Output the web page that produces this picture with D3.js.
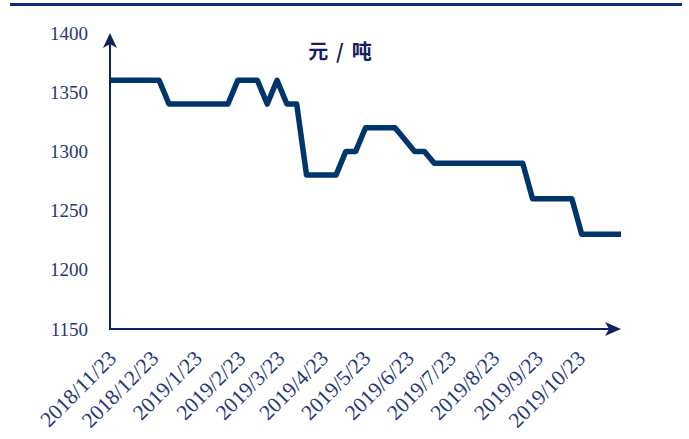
<!DOCTYPE html>
<html>
<head>
<meta charset="utf-8">
<script src="https://cdn.jsdelivr.net/npm/d3@7"></script>
<style>
  body { margin: 0; background: #fff; }
  svg { display: block; }
</style>
</head>
<body>
<div id="chart"></div>
<script>
// weekly price data (元/吨)
const dates = [
  "2018-11-23", "2018-11-30", "2018-12-07", "2018-12-14", "2018-12-21", "2018-12-28",
  "2019-01-04", "2019-01-11", "2019-01-18", "2019-01-25", "2019-02-01", "2019-02-08",
  "2019-02-15", "2019-02-22", "2019-03-01", "2019-03-08", "2019-03-15", "2019-03-22",
  "2019-03-29", "2019-04-05", "2019-04-12", "2019-04-19", "2019-04-26", "2019-05-03",
  "2019-05-10", "2019-05-17", "2019-05-24", "2019-05-31", "2019-06-07", "2019-06-14",
  "2019-06-21", "2019-06-28", "2019-07-05", "2019-07-12", "2019-07-19", "2019-07-26",
  "2019-08-02", "2019-08-09", "2019-08-16", "2019-08-23", "2019-08-30", "2019-09-06",
  "2019-09-13", "2019-09-20", "2019-09-27", "2019-10-04", "2019-10-11", "2019-10-18",
  "2019-10-25", "2019-11-01", "2019-11-08", "2019-11-15", "2019-11-22"
];
const prices = [
  1360, 1360, 1360, 1360, 1360, 1360,
  1340, 1340, 1340, 1340, 1340, 1340, 1340,
  1360, 1360, 1360, 1340, 1360, 1340, 1340,
  1280, 1280, 1280, 1280, 1300, 1300,
  1320, 1320, 1320, 1320, 1310, 1300, 1300,
  1290, 1290, 1290, 1290, 1290, 1290, 1290, 1290, 1290, 1290,
  1260, 1260, 1260, 1260, 1260,
  1230, 1230, 1230, 1230, 1230
];
const tickDates = [
  "2018-11-23", "2018-12-23", "2019-01-23", "2019-02-23", "2019-03-23", "2019-04-23",
  "2019-05-23", "2019-06-23", "2019-07-23", "2019-08-23", "2019-09-23", "2019-10-23"
];
const yTicks = [1150, 1200, 1250, 1300, 1350, 1400];
const unitLabel = "元/吨";

const width = 689, height = 439;
const lineColor = "#00356b";
const axisColor = "#0d2260";
const textColor = "#26377a";
const serif = "'Liberation Serif', 'DejaVu Serif', serif";

const parse = d3.timeParse("%Y-%m-%d");
const fmt = d3.timeFormat("%Y/%-m/%-d");
const data = dates.map((d, i) => ({ date: parse(d), value: prices[i] }));

const svg = d3.select("#chart").append("svg")
  .attr("width", width)
  .attr("height", height);

// top rule
svg.append("rect")
  .attr("x", 10).attr("y", 3)
  .attr("width", 672).attr("height", 3)
  .attr("fill", "#0b2d80");

const x = d3.scaleTime()
  .domain(d3.extent(data, d => d.date))
  .range([110, 621]);

const y = d3.scaleLinear()
  .domain([1150, 1400])
  .range([329, 33]);

// y tick labels
svg.selectAll("text.ytick")
  .data(yTicks)
  .enter()
  .append("text")
  .attr("class", "ytick")
  .attr("x", 88)
  .attr("y", d => y(d))
  .attr("dy", "0.35em")
  .attr("text-anchor", "end")
  .attr("fill", textColor)
  .style("font-family", serif)
  .style("font-size", "19px")
  .text(d => d);

// x tick labels (rotated)
svg.selectAll("text.xtick")
  .data(tickDates.map(parse))
  .enter()
  .append("text")
  .attr("class", "xtick")
  .attr("text-anchor", "end")
  .attr("transform", d => `translate(${x(d) - 3},${349}) rotate(-45)`)
  .attr("dy", "0.7em")
  .attr("fill", textColor)
  .style("font-family", serif)
  .style("font-size", "21.5px")
  .text(d => fmt(d));

// axes
const x0 = x.range()[0], y0 = y.range()[0];
svg.append("line")
  .attr("x1", x0).attr("y1", y0)
  .attr("x2", x0).attr("y2", 40)
  .attr("stroke", axisColor).attr("stroke-width", 2);
svg.append("line")
  .attr("x1", x0 - 1).attr("y1", y0)
  .attr("x2", 612).attr("y2", y0)
  .attr("stroke", axisColor).attr("stroke-width", 2);

// arrow heads
svg.append("path")
  .attr("d", `M${x0},33 L${x0 + 7},48 L${x0},44 L${x0 - 7},48 Z`)
  .attr("fill", axisColor);
svg.append("path")
  .attr("d", `M621,${y0} L605,${y0 - 7} L609,${y0} L605,${y0 + 7} Z`)
  .attr("fill", axisColor);

// price line
const line = d3.line()
  .x(d => x(d.date))
  .y(d => y(d.value));

svg.append("path")
  .datum(data)
  .attr("d", line)
  .attr("fill", "none")
  .attr("stroke", lineColor)
  .attr("stroke-width", 5.5)
  .attr("stroke-linejoin", "round");

// unit title
svg.append("text")
  .attr("x", 344)
  .attr("y", 52)
  .attr("dy", "0.35em")
  .attr("text-anchor", "middle")
  .attr("fill", "#13225e")
  .style("font-family", "'Noto Sans CJK SC', sans-serif")
  .style("font-weight", "700")
  .style("font-size", "20px")
  .style("letter-spacing", "8px")
  .text(unitLabel);
</script>
</body>
</html>
